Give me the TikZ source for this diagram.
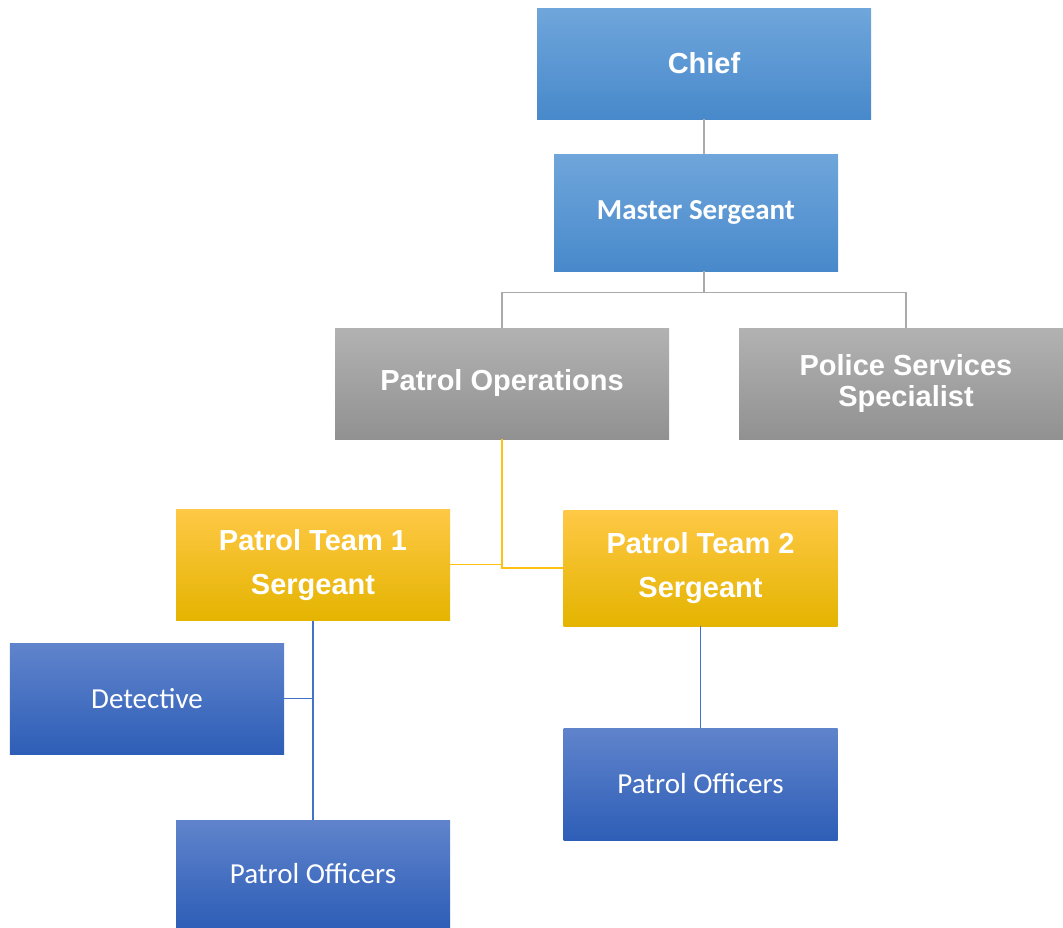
\documentclass[tikz,border=0pt]{standalone}
\usepackage{fontspec}
\setmainfont{Liberation Sans}
\newfontfamily\carlito{Carlito}
\usetikzlibrary{positioning}

\definecolor{headtop}{RGB}{111,166,219}
\definecolor{headmid}{RGB}{91,155,213}
\definecolor{headbot}{RGB}{72,137,203}
\definecolor{opstop}{RGB}{178,178,178}
\definecolor{opsmid}{RGB}{165,165,165}
\definecolor{opsbot}{RGB}{145,145,145}
\definecolor{teamtop}{RGB}{255,200,70}
\definecolor{teammid}{RGB}{255,194,0}
\definecolor{teambot}{RGB}{228,180,0}
\definecolor{stafftop}{RGB}{96,132,204}
\definecolor{staffmid}{RGB}{68,114,196}
\definecolor{staffbot}{RGB}{46,94,183}

\tikzstyle{block}=[align=center, rectangle, inner sep=0pt, text=white, font=\bfseries\fontsize{16.5}{17.5}\selectfont]
\tikzstyle{head area}=[top color=headtop, middle color=headmid, bottom color=headbot]
\tikzstyle{ops area}=[top color=opstop, middle color=opsmid, bottom color=opsbot]
\tikzstyle{team area}=[top color=teamtop, middle color=teammid, bottom color=teambot]
\tikzstyle{staff area}=[top color=stafftop, middle color=staffmid, bottom color=staffbot]
\tikzstyle{box}=[block, minimum width=6.68cm, minimum height=2.22cm]
\tikzstyle{team box}=[block, minimum width=5.48cm, minimum height=2.22cm]
\tikzstyle{link}=[line width=0.8pt]
\tikzstyle{gray link}=[link, draw={rgb,255:red,170;green,170;blue,170}]
\tikzstyle{gold link}=[link, draw={rgb,255:red,255;green,192;blue,20}]
\tikzstyle{blue link}=[link, draw={rgb,255:red,68;green,114;blue,196}]

\begin{document}
\begin{tikzpicture}
\useasboundingbox (0,0) rectangle (21.26,-18.56);

\draw (14.08,-1.27) node[box,head area] (chief) {Chief};

\draw (chief) ++(-0.16,-2.98) node[block,head area,minimum width=5.68cm,minimum height=2.34cm,
  font=\carlito\bfseries\fontsize{16.5}{17.5}\selectfont] (master) {Master Sergeant};

\draw (master) ++(-3.88,-3.42) node[box,ops area] (patrol) {Patrol Operations};

\draw (patrol) ++(8.08,0) node[box,ops area,
  font=\bfseries\fontsize{16.5}{17.4}\selectfont] (services) {Police Services\\Specialist};

\draw (patrol) ++(-3.78,-3.625) node[team box,team area,
  font=\bfseries\fontsize{16.5}{25}\selectfont] (team1) {Patrol Team 1\\Sergeant};

\draw (team1) ++(7.75,-0.065) node[team box,team area,minimum height=2.32cm,
  font=\bfseries\fontsize{16.5}{25}\selectfont] (team2) {Patrol Team 2\\Sergeant};

\draw (team1) ++(-3.32,-2.675) node[team box,staff area,
  font=\carlito\fontsize{16.5}{17.5}\selectfont] (detective) {Detective};

\draw (team1) ++(0,-6.175) node[team box,staff area,minimum height=2.14cm,
  font=\carlito\fontsize{16.5}{17.5}\selectfont] (officers1) {Patrol Officers};

\draw (team2) ++(0,-4.32) node[team box,staff area,minimum height=2.24cm,
  font=\carlito\fontsize{16.5}{17.5}\selectfont] (officers2) {Patrol Officers};

% chain of command
\draw[gray link] (chief.south) -- (chief.south |- master.north);
\draw[gray link] (chief.south |- master.south) -- ++(0,-0.42) coordinate (msplit);
\draw[gray link] (patrol.north) |- (msplit);
\draw[gray link] (msplit) -| (services.north);

\draw[gold link] (patrol.south) |- (team1.east);
\draw[gold link] (patrol.south) |- (team2.west);

\draw[blue link] (team1.south) -- (officers1.north);
\draw[blue link] (detective.east) -- (detective.east -| team1.south);
\draw[blue link] (team2.south) -- (officers2.north);

\end{tikzpicture}
\end{document}
